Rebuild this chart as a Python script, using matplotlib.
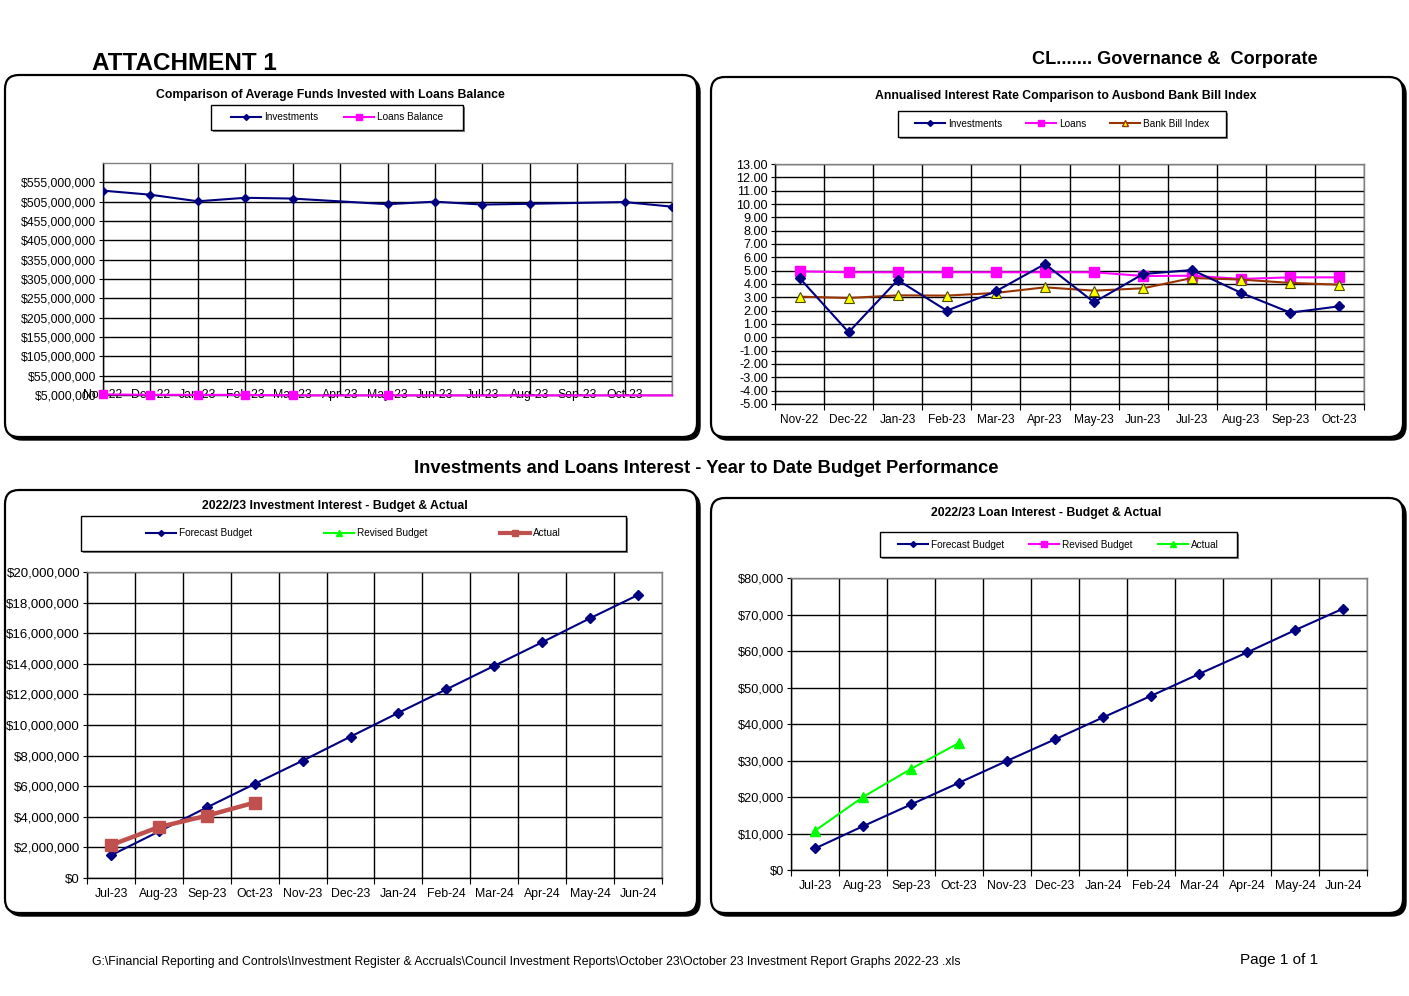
import matplotlib
matplotlib.use('Agg')
import matplotlib.pyplot as plt
from matplotlib.patches import FancyBboxPatch, Rectangle
from matplotlib.lines import Line2D
from matplotlib.ticker import FuncFormatter

plt.rcParams['font.family'] = ['Liberation Sans', 'DejaVu Sans']

W, H = 1409, 996
DPI = 100

NAVY = '#000080'
MAGENTA = '#FF00FF'
GREEN = '#00FF00'
BROWN = '#993300'
YELLOW = '#FFFF00'
RED = '#C0504D'

# chart 1 - average funds invested vs loans balance ($ millions)
funds_months = ['Nov-22', 'Dec-22', 'Jan-23', 'Feb-23', 'Mar-23', 'Apr-23',
                'May-23', 'Jun-23', 'Jul-23', 'Aug-23', 'Sep-23', 'Oct-23', '']
funds_investments = [533.5, 523.0, 506.0, 515.0, 513.0, None, 498.5,
                     505.0, 497.5, 499.5, None, 504.0, 492.0]
funds_loans = [6.5, 5.5, 5.4, 5.2, 4.0, None, 4.0,
               4.0, 4.0, 4.0, 4.0, 4.0, 4.0]
funds_loans_marked = 6  # markers only shown on the first points

# chart 2 - annualised interest rates (%)
rate_months = ['Nov-22', 'Dec-22', 'Jan-23', 'Feb-23', 'Mar-23', 'Apr-23',
               'May-23', 'Jun-23', 'Jul-23', 'Aug-23', 'Sep-23', 'Oct-23']
rate_investments = [4.45, 0.38, 4.30, 2.00, 3.45, 5.50, 2.63, 4.75, 5.05, 3.33, 1.85, 2.33]
rate_loans = [4.95, 4.88, 4.88, 4.88, 4.88, 4.88, 4.88, 4.60, 4.62, 4.38, 4.50, 4.50]
rate_bbi = [3.05, 2.95, 3.15, 3.13, 3.33, 3.75, 3.50, 3.68, 4.45, 4.33, 4.08, 3.95]

# charts 3 and 4 - year to date budget performance
ytd_months = ['Jul-23', 'Aug-23', 'Sep-23', 'Oct-23', 'Nov-23', 'Dec-23',
              'Jan-24', 'Feb-24', 'Mar-24', 'Apr-24', 'May-24', 'Jun-24']
inv_forecast = [1.48, 3.04, 4.61, 6.15, 7.67, 9.24, 10.80, 12.33, 13.87, 15.41, 16.98, 18.50]  # $M
inv_revised = []
inv_actual = [2.15, 3.33, 4.07, 4.93]  # $M
loan_forecast = [5.9, 12.0, 17.95, 23.9, 29.9, 35.8, 41.8, 47.7, 53.7, 59.6, 65.7, 71.6]  # $k
loan_revised = []
loan_actual = [10.75, 20.0, 27.7, 34.8]  # $k


def rect(x0, y0, x1, y1):
    return [x0 / W, 1 - y1 / H, (x1 - x0) / W, (y1 - y0) / H]


def panel(fig, x0, y0, x1, y1):
    sh = FancyBboxPatch((x0 + 3, H - y1 - 3), x1 - x0, y1 - y0,
                        boxstyle='round,pad=0,rounding_size=14',
                        transform=None, fc='black', ec='black', lw=1, zorder=-2)
    bx = FancyBboxPatch((x0, H - y1), x1 - x0, y1 - y0,
                        boxstyle='round,pad=0,rounding_size=14',
                        transform=None, fc='white', ec='black', lw=1.6, zorder=-1.5)
    fig.patches.extend([sh, bx])


def legend_box(fig, x0, y0, x1, y1, handles, labels, spacing):
    sh = Rectangle((x0 + 2, H - y1 - 2), x1 - x0, y1 - y0, transform=None,
                   fc='#7f7f7f', ec='none', zorder=-1)
    bx = Rectangle((x0, H - y1), x1 - x0, y1 - y0, transform=None,
                   fc='white', ec='black', lw=1, zorder=-0.5)
    fig.patches.extend([sh, bx])
    fig.legend(handles, labels, loc='center',
               bbox_to_anchor=((x0 + x1) / 2 / W, 1 - (y0 + y1) / 2 / H),
               ncol=len(labels), frameon=False, fontsize=7.2, handlelength=3.0,
               handletextpad=0.3, columnspacing=spacing, borderpad=0)


def valid(xs, ys):
    pts = [(x, y) for x, y in zip(xs, ys) if y is not None]
    return [p[0] for p in pts], [p[1] for p in pts]


def base_style(ax, fs):
    ax.set_zorder(2)
    for s in ['top', 'right']:
        ax.spines[s].set_color('#808080')
    for s in ['left', 'bottom']:
        ax.spines[s].set_color('black')
    for s in ax.spines.values():
        s.set_linewidth(1)
    ax.tick_params(axis='y', labelsize=fs, length=3, width=0.8, pad=2)
    ax.set_axisbelow(True)


def category_axis(ax, labels, fs, pad):
    n = len(labels)
    ax.set_xlim(-0.5, n - 0.5)
    ax.set_xticks(range(n))
    ax.set_xticklabels(labels)
    ax.set_xticks([i - 0.5 for i in range(n + 1)], minor=True)
    ax.tick_params(axis='x', which='major', length=0, labelsize=fs, pad=pad)
    ax.tick_params(axis='x', which='minor', length=4, width=0.8)
    ax.grid(True, axis='x', which='minor', color='black', lw=1)
    ax.grid(True, axis='y', which='major', color='black', lw=1)


fig = plt.figure(figsize=(W / DPI, H / DPI), dpi=DPI)

fig.text(92 / W, 1 - 64 / H, 'ATTACHMENT 1', fontsize=17.5, fontweight='bold',
         ha='left', va='center')
fig.text(1318 / W, 1 - 60 / H, 'CL....... Governance &  Corporate', fontsize=13.1,
         fontweight='bold', ha='right', va='center')
fig.text(706 / W, 1 - 468 / H,
         'Investments and Loans Interest - Year to Date Budget Performance',
         fontsize=13.2, fontweight='bold', ha='center', va='center')
fig.text(92 / W, 1 - 962 / H,
         'G:\\Financial Reporting and Controls\\Investment Register & Accruals\\Council '
         'Investment Reports\\October 23\\October 23 Investment Report Graphs 2022-23 .xls',
         fontsize=8.85, ha='left', va='center')
fig.text(1318 / W, 1 - 960 / H, 'Page 1 of 1', fontsize=11, ha='right', va='center')

panel(fig, 5, 75, 697, 437)
panel(fig, 711, 77, 1403, 437)
panel(fig, 5, 490, 697, 913)
panel(fig, 711, 498, 1403, 913)

# ---- chart 1
ax1 = fig.add_axes(rect(103, 163, 672, 395))
base_style(ax1, 8.8)
x = list(range(len(funds_months)))
xi, yi = valid(x, funds_investments)
ax1.plot(xi, [v * 1e6 for v in yi], color=NAVY, lw=1.5, marker='D', ms=4.5, zorder=3)
xl, yl = valid(x, funds_loans)
ax1.plot(xl, [v * 1e6 for v in yl], color=MAGENTA, lw=1.5, marker='s', ms=6,
         markevery=list(range(funds_loans_marked)), clip_on=False, zorder=3)
ax1.set_xlim(0, len(funds_months) - 1)
ax1.set_xticks(x)
ax1.set_xticklabels(funds_months)
ax1.tick_params(axis='x', length=0, labelsize=8.8, pad=-4.3)
ax1.set_ylim(5e6, 605e6)
ax1.set_yticks([5e6 + 50e6 * i for i in range(12)])
ax1.yaxis.set_major_formatter(FuncFormatter(lambda v, p: '${:,.0f}'.format(v)))
ax1.grid(True, color='black', lw=1)
ax1.axhline(40e6, color='black', lw=1, zorder=1)
fig.text(330 / W, 1 - 95 / H, 'Comparison of Average Funds Invested with Loans Balance',
         fontsize=8.8, fontweight='bold', ha='center', va='center')
legend_box(fig, 211, 105, 463, 130,
           [Line2D([], [], color=NAVY, lw=1.5, marker='D', ms=3),
            Line2D([], [], color=MAGENTA, lw=1.5, marker='s', ms=4)],
           ['Investments', 'Loans Balance'], 2.6)

# ---- chart 2
ax2 = fig.add_axes(rect(775, 164, 1364, 404))
base_style(ax2, 9.1)
x = range(len(rate_months))
ax2.plot(x, rate_loans, color=MAGENTA, lw=1.5, marker='s', ms=7, zorder=3)
ax2.plot(x, rate_bbi, color=BROWN, lw=1.5, marker='^', ms=7, mfc=YELLOW,
         mec='#4d4d00', mew=0.8, zorder=4)
ax2.plot(x, rate_investments, color=NAVY, lw=1.5, marker='D', ms=5.5, zorder=5)
ax2.set_ylim(-5, 13)
ax2.set_yticks(range(-5, 14))
ax2.yaxis.set_major_formatter(FuncFormatter(lambda v, p: '{:.2f}'.format(v)))
category_axis(ax2, rate_months, 8.6, 7)
fig.text(1066 / W, 1 - 96 / H, 'Annualised Interest Rate Comparison to Ausbond Bank Bill Index',
         fontsize=8.8, fontweight='bold', ha='center', va='center')
legend_box(fig, 898, 111, 1226, 137,
           [Line2D([], [], color=NAVY, lw=1.5, marker='D', ms=3),
            Line2D([], [], color=MAGENTA, lw=1.5, marker='s', ms=4),
            Line2D([], [], color=BROWN, lw=1.5, marker='^', ms=5, mfc=YELLOW, mec=BROWN)],
           ['Investments', 'Loans', 'Bank Bill Index'], 2.4)

# ---- chart 3
ax3 = fig.add_axes(rect(87, 572, 662, 878))
base_style(ax3, 9.5)
ax3.plot(range(len(inv_forecast)), [v * 1e6 for v in inv_forecast], color=NAVY, lw=1.5,
         marker='D', ms=5, zorder=3)
ax3.plot(range(len(inv_revised)), [v * 1e6 for v in inv_revised], color=GREEN, lw=1.5,
         marker='^', ms=5, zorder=3)
ax3.plot(range(len(inv_actual)), [v * 1e6 for v in inv_actual], color=RED, lw=3.2,
         marker='s', ms=9, zorder=4)
ax3.set_ylim(0, 20e6)
ax3.set_yticks([2e6 * i for i in range(11)])
ax3.yaxis.set_major_formatter(FuncFormatter(lambda v, p: '${:,.0f}'.format(v)))
category_axis(ax3, ytd_months, 8.8, 7.5)
fig.text(335 / W, 1 - 506 / H, '2022/23 Investment Interest - Budget & Actual',
         fontsize=8.8, fontweight='bold', ha='center', va='center')
legend_box(fig, 81, 516, 626, 551,
           [Line2D([], [], color=NAVY, lw=1.5, marker='D', ms=3),
            Line2D([], [], color=GREEN, lw=1.5, marker='^', ms=4),
            Line2D([], [], color=RED, lw=3, marker='s', ms=4)],
           ['Forecast Budget', 'Revised Budget', 'Actual'], 7.2)

# ---- chart 4
ax4 = fig.add_axes(rect(791, 578, 1367, 870))
base_style(ax4, 9.2)
ax4.plot(range(len(loan_forecast)), [v * 1e3 for v in loan_forecast], color=NAVY, lw=1.5,
         marker='D', ms=5, zorder=3)
ax4.plot(range(len(loan_revised)), [v * 1e3 for v in loan_revised], color=MAGENTA, lw=1.5,
         marker='s', ms=5, zorder=3)
ax4.plot(range(len(loan_actual)), [v * 1e3 for v in loan_actual], color=GREEN, lw=1.5,
         marker='^', ms=7, zorder=4)
ax4.set_ylim(0, 80e3)
ax4.set_yticks([10e3 * i for i in range(9)])
ax4.yaxis.set_major_formatter(FuncFormatter(lambda v, p: '${:,.0f}'.format(v)))
category_axis(ax4, ytd_months, 8.8, 7.5)
fig.text(1046 / W, 1 - 513 / H, '2022/23 Loan Interest - Budget & Actual',
         fontsize=8.8, fontweight='bold', ha='center', va='center')
legend_box(fig, 880, 532, 1237, 557,
           [Line2D([], [], color=NAVY, lw=1.5, marker='D', ms=3),
            Line2D([], [], color=MAGENTA, lw=1.5, marker='s', ms=4),
            Line2D([], [], color=GREEN, lw=1.5, marker='^', ms=4)],
           ['Forecast Budget', 'Revised Budget', 'Actual'], 2.5)

fig.savefig('out.png', dpi=DPI)
